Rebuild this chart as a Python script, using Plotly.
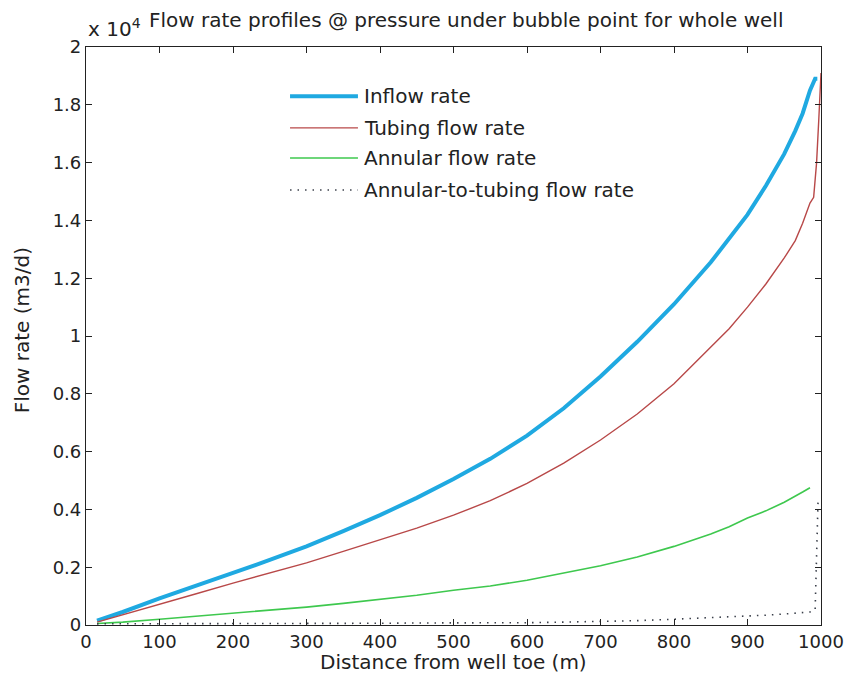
import plotly.graph_objects as go

# ---- data (flow rate in units of 1e4 m3/d) ----
dist = [15, 50, 100, 150, 200, 250, 300, 350, 400, 450, 500, 550, 600, 650,
        700, 750, 800, 850, 875, 900, 925, 950, 965, 975, 985]
inflow = [0.015, 0.045, 0.092, 0.135, 0.18, 0.225, 0.272, 0.325, 0.38, 0.44,
          0.505, 0.575, 0.655, 0.75, 0.86, 0.98, 1.11, 1.255, 1.335, 1.42, 1.52,
          1.63, 1.71, 1.77, 1.85]
inflow_end_x = [992, 995]
inflow_end_y = [1.89, 1.89]

tubing = [0.01, 0.035, 0.072, 0.108, 0.145, 0.18, 0.215, 0.255, 0.295, 0.335,
          0.38, 0.43, 0.49, 0.56, 0.64, 0.73, 0.835, 0.96, 1.025, 1.1, 1.18,
          1.27, 1.33, 1.39, 1.46]
tubing_end_x = [990, 994, 997, 1000]
tubing_end_y = [1.48, 1.6, 1.75, 1.91]

annular = [0.005, 0.01, 0.02, 0.03, 0.04, 0.05, 0.062, 0.075, 0.088, 0.103,
           0.12, 0.135, 0.155, 0.18, 0.205, 0.235, 0.272, 0.315, 0.34, 0.37,
           0.395, 0.425, 0.445, 0.46, 0.475]

a2t = [0.004, 0.004, 0.004, 0.005, 0.005, 0.005, 0.005, 0.006, 0.006, 0.007,
       0.007, 0.008, 0.008, 0.01, 0.012, 0.015, 0.02, 0.025, 0.027, 0.03,
       0.034, 0.038, 0.04, 0.043, 0.045]
a2t_end_x = [992, 996]
a2t_end_y = [0.05, 0.43]

x_ticks = [0, 100, 200, 300, 400, 500, 600, 700, 800, 900, 1000]
y_ticks = [0, 0.2, 0.4, 0.6, 0.8, 1.0, 1.2, 1.4, 1.6, 1.8, 2.0]
y_ticklabels = ["0", "0.2", "0.4", "0.6", "0.8", "1", "1.2", "1.4", "1.6", "1.8", "2"]

names = ["Inflow rate", "Tubing flow rate", "Annular flow rate",
         "Annular-to-tubing flow rate"]
colors = ["#1fa9e1", "#b84848", "#3ec84e", "#3a3f4a"]
widths = [4, 1.4, 1.6, 1.6]
dashes = ["solid", "solid", "solid", "1.5px,6px"]

FONT = "DejaVu Sans"
TXT = dict(family=FONT, size=20, color="#222")

fig = go.Figure()
fig.add_trace(go.Scatter(x=dist + inflow_end_x, y=inflow + inflow_end_y, mode="lines",
                         line=dict(color=colors[0], width=widths[0]), name=names[0]))
fig.add_trace(go.Scatter(x=dist + tubing_end_x, y=tubing + tubing_end_y, mode="lines",
                         line=dict(color=colors[1], width=widths[1]), name=names[1]))
fig.add_trace(go.Scatter(x=dist, y=annular, mode="lines",
                         line=dict(color=colors[2], width=widths[2]), name=names[2]))
fig.add_trace(go.Scatter(x=dist + a2t_end_x, y=a2t + a2t_end_y, mode="lines",
                         line=dict(color=colors[3], width=widths[3], dash=dashes[3]),
                         name=names[3]))

# manual legend (MATLAB style, no box)
leg_y = [0.915, 0.860, 0.808, 0.7526]
for i in range(4):
    fig.add_shape(type="line", xref="paper", yref="paper",
                  x0=0.2776, x1=0.370, y0=leg_y[i], y1=leg_y[i],
                  line=dict(color=colors[i], width=widths[i], dash=dashes[i]))
    fig.add_annotation(xref="paper", yref="paper", x=0.3755, y=leg_y[i],
                       xanchor="left", yanchor="middle", showarrow=False,
                       text=names[i], font=TXT)

# title & exponent label
fig.add_annotation(xref="paper", yref="paper", x=0.083, y=1.047, xanchor="left",
                   yanchor="middle", showarrow=False,
                   text="Flow rate profiles @ pressure under bubble point for whole well",
                   font=TXT)
fig.add_annotation(xref="paper", yref="paper", x=0.0, y=1.033, xanchor="left",
                   yanchor="middle", showarrow=False, text="x 10<sup>4</sup>",
                   font=TXT)
# axis titles
fig.add_annotation(xref="paper", yref="paper", x=0.5, y=-0.064, xanchor="center",
                   yanchor="middle", showarrow=False, text="Distance from well toe (m)",
                   font=TXT)
fig.add_annotation(xref="paper", yref="paper", x=-0.087, y=0.51, xanchor="center",
                   yanchor="middle", showarrow=False, text="Flow rate (m3/d)",
                   textangle=-90, font=TXT)

axis_common = dict(showgrid=False, zeroline=False, showline=True, linecolor="#222",
                   linewidth=1.2, mirror="ticks", ticks="inside", ticklen=6,
                   tickcolor="#222", automargin=False,
                   tickfont=dict(family=FONT, size=18, color="#222"))
fig.update_xaxes(range=[0, 1000], tickvals=x_ticks, **axis_common)
fig.update_yaxes(range=[0, 2], tickvals=y_ticks, ticktext=y_ticklabels, **axis_common)

fig.update_layout(width=847, height=688, showlegend=False,
                  margin=dict(l=86, r=26, t=47, b=63),
                  plot_bgcolor="white", paper_bgcolor="white")
fig.write_html("out.html")
